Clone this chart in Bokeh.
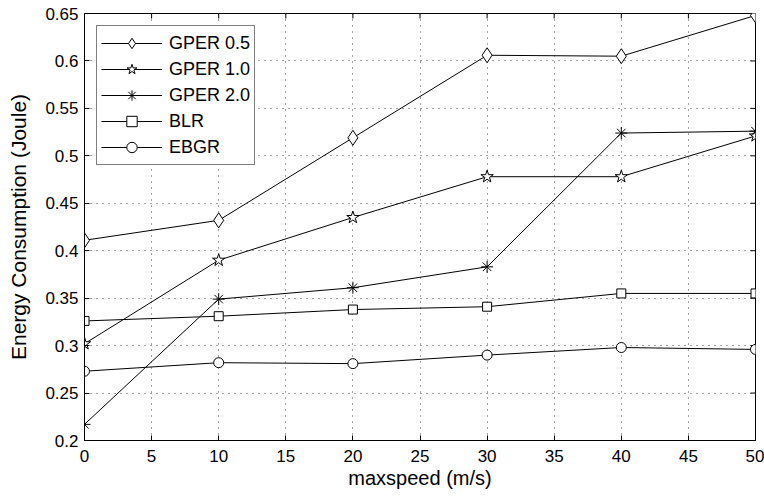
import math
from bokeh.plotting import figure
from bokeh.models import Range1d, FixedTicker, Legend, LegendItem
from bokeh.embed import file_html
from bokeh.resources import INLINE

# ---- data ----
maxspeed = [0, 10, 20, 30, 40, 50]
gper05 = [0.411, 0.432, 0.519, 0.606, 0.605, 0.648]
gper10 = [0.302, 0.390, 0.435, 0.478, 0.478, 0.521]
gper20 = [0.217, 0.349, 0.361, 0.383, 0.524, 0.526]
blr = [0.326, 0.331, 0.338, 0.341, 0.355, 0.355]
ebgr = [0.273, 0.282, 0.281, 0.290, 0.298, 0.296]

series_names = ["GPER 0.5", "GPER 1.0", "GPER 2.0", "BLR", "EBGR"]
series_markers = ["diamond", "star", "asterisk", "square", "circle"]
series_values = [gper05, gper10, gper20, blr, ebgr]
marker_sizes = [15, 13, 12, 9, 10]

x_ticks = [0, 5, 10, 15, 20, 25, 30, 35, 40, 45, 50]
y_ticks = [0.2, 0.25, 0.3, 0.35, 0.4, 0.45, 0.5, 0.55, 0.6, 0.65]
y_tick_labels = ["0.2", "0.25", "0.3", "0.35", "0.4", "0.45", "0.5", "0.55", "0.6", "0.65"]

FONT = "Liberation Sans"

p = figure(frame_width=671, frame_height=427,
           min_border_left=84, min_border_right=9, min_border_top=13, min_border_bottom=56,
           x_range=Range1d(0, 50), y_range=Range1d(0.2, 0.65),
           output_backend="svg", toolbar_location=None,
           background_fill_color="white", border_fill_color="white")

p.outline_line_color = "black"
p.outline_line_width = 1

for ax in [p.xaxis[0], p.yaxis[0]]:
    ax.major_tick_in = 5
    ax.major_tick_out = 0
    ax.minor_tick_line_color = None
    ax.axis_line_color = "black"
    ax.major_tick_line_color = "black"
    ax.major_label_text_font = FONT
    ax.major_label_text_font_size = "17px"
    ax.major_label_text_color = "black"
    ax.axis_label_text_font = FONT
    ax.axis_label_text_font_style = "normal"
    ax.axis_label_text_color = "black"

p.xaxis[0].ticker = FixedTicker(ticks=x_ticks)
p.yaxis[0].ticker = FixedTicker(ticks=y_ticks)
p.yaxis[0].major_label_overrides = {t: l for t, l in zip(y_ticks, y_tick_labels)}
p.xaxis[0].axis_label = "maxspeed (m/s)"
p.yaxis[0].axis_label = "Energy Consumption (Joule)"
p.xaxis[0].axis_label_text_font_size = "20px"
p.yaxis[0].axis_label_text_font_size = "21px"
p.xaxis[0].major_label_standoff = 9
p.yaxis[0].major_label_standoff = 6
p.xaxis[0].axis_label_standoff = 2
p.yaxis[0].axis_label_standoff = 12

for g in (p.xgrid[0], p.ygrid[0]):
    g.grid_line_color = "#444444"
    g.grid_line_dash = "1 5"
    g.grid_line_width = 1
p.xgrid[0].ticker = FixedTicker(ticks=x_ticks)
p.ygrid[0].ticker = FixedTicker(ticks=y_ticks)

# mirrored inward ticks on the top and right edges (MATLAB box style)
y_top = p.y_range.end
x_right = p.x_range.end
p.ray(x=x_ticks, y=[y_top] * len(x_ticks), length=5, length_units="screen",
      angle=-math.pi / 2, line_color="black", line_width=1)
p.ray(x=[x_right] * len(y_ticks), y=y_ticks, length=5, length_units="screen",
      angle=math.pi, line_color="black", line_width=1)

items = []
for name, mk, vals, sz in zip(series_names, series_markers, series_values, marker_sizes):
    ln = p.line(maxspeed, vals, line_color="black", line_width=1)
    sc = p.scatter(maxspeed, vals, marker=mk, size=sz, line_color="black",
                   fill_color="white", line_width=1)
    items.append(LegendItem(label=name, renderers=[ln, sc]))

legend = Legend(items=items, location="top_left", margin=12,
                padding=4, spacing=0, glyph_width=61, glyph_height=26,
                label_height=26, label_standoff=7,
                label_text_font=FONT, label_text_font_size="18px",
                label_text_color="black",
                border_line_color="black", border_line_width=1,
                background_fill_color="white", background_fill_alpha=1)
p.add_layout(legend, "center")

open("out.html", "w").write(file_html(p, INLINE))
